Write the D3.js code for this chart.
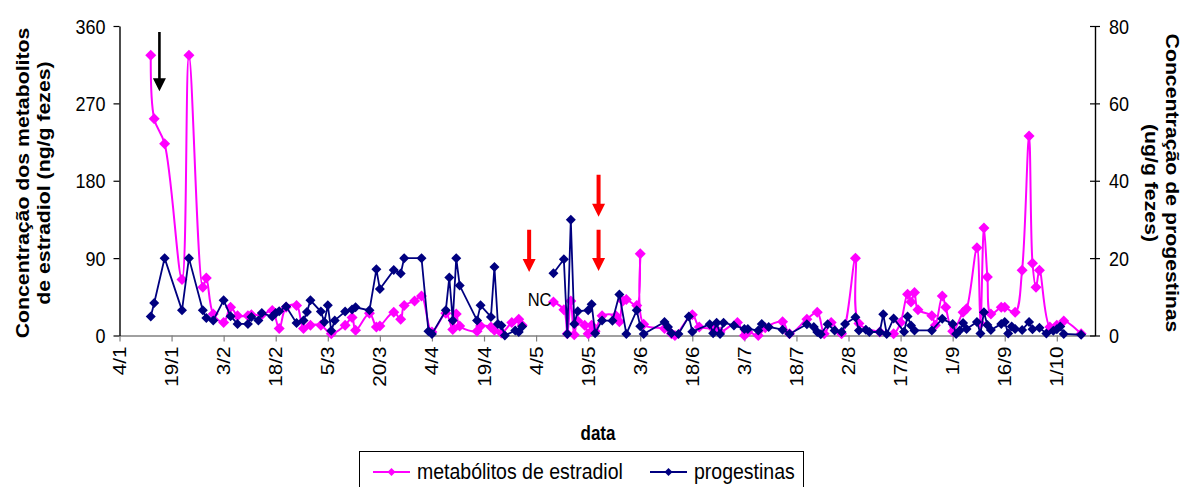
<!DOCTYPE html>
<html>
<head>
<meta charset="utf-8">
<script src="https://cdn.jsdelivr.net/npm/d3@7"></script>
<style>
  body { margin: 0; background: #fff; }
  svg { display: block; font-family: "Liberation Sans", Arial, sans-serif; }
</style>
</head>
<body>
<svg id="chart" width="1183" height="487"></svg>
<script>
// ---- data -------------------------------------------------------------
const year = 2005;

const xTickLabels = ["4/1", "19/1", "3/2", "18/2", "5/3", "20/3", "4/4", "19/4", "4/5",
  "19/5", "3/6", "18/6", "3/7", "18/7", "2/8", "17/8", "1/9", "16/9", "1/10"];
const leftTicks = [0, 90, 180, 270, 360];
const rightTicks = [0, 20, 40, 60, 80];

// metabólitos de estradiol (ng/g fezes); null = amostra não colhida (NC)
const estradiolDates = ["13/1", "14/1", "17/1", "22/1", "24/1", "28/1", "29/1", "31/1", "3/2", "5/2",
  "7/2", "10/2", "11/2", "14/2", "17/2", "19/2", "21/2", "24/2", "26/2", "28/2",
  "3/3", "6/3", "10/3", "12/3", "13/3", "17/3", "19/3", "20/3", "24/3", "26/3",
  "27/3", "30/3", "1/4", "4/4", "8/4", "10/4", "11/4", "12/4", "17/4", "18/4",
  "21/4", "22/4", "24/4", "27/4", "29/4", "30/4", "5/5", "9/5", "12/5", "13/5",
  "14/5", "15/5", "16/5", "18/5", "19/5", "20/5", "21/5", "23/5", "27/5", "28/5",
  "29/5", "30/5", "2/6", "3/6", "4/6", "10/6", "12/6", "13/6", "18/6", "20/6",
  "24/6", "26/6", "1/7", "3/7", "4/7", "7/7", "9/7", "14/7", "16/7", "21/7",
  "24/7", "26/7", "28/7", "31/7", "4/8", "5/8", "11/8", "15/8", "17/8", "19/8",
  "20/8", "21/8", "22/8", "26/8", "27/8", "29/8", "30/8", "1/9", "4/9", "5/9",
  "8/9", "9/9", "10/9", "11/9", "12/9", "15/9", "16/9", "19/9", "21/9", "23/9",
  "24/9", "25/9", "26/9", "29/9", "1/10", "3/10", "8/10"];
const estradiolValues = [326, 252, 223, 65, 326, 56, 67, 25, 15, 33,
  23, 23, 24, 24, 29, 8, 33, 35, 8, 12,
  12, 2, 12, 21, 6, 26, 10, 11, 27, 19,
  35, 40, 46, 4, 26, 7, 25, 11, 5, 11,
  10, 6, 3, 15, 19, 12, null, 39, 30, 2,
  40, 1, 17, 12, 2, 12, 5, 23, 23, 16,
  40, 42, 35, 95, 13, 8, 2, 0, 24, 10,
  8, 4, 15, 0, 4, 0, 9, 16, 2, 19,
  27, 2, 15, 2, 90, 14, 4, 2, 15, 48,
  39, 50, 30, 23, 12, 46, 33, 5, 27, 31,
  102, 14, 125, 68, 25, 33, 33, 27, 76, 232,
  84, 56, 76, 10, 12, 17, 2];

// progestinas (ug/g fezes)
const progestinDates = ["13/1", "14/1", "17/1", "22/1", "24/1", "28/1", "29/1", "31/1", "3/2", "5/2",
  "7/2", "10/2", "11/2", "13/2", "14/2", "17/2", "18/2", "19/2", "21/2", "24/2",
  "26/2", "27/2", "28/2", "3/3", "4/3", "5/3", "6/3", "7/3", "10/3", "12/3",
  "13/3", "17/3", "19/3", "20/3", "24/3", "26/3", "27/3", "1/4", "3/4", "4/4",
  "8/4", "9/4", "10/4", "11/4", "12/4", "17/4", "18/4", "21/4", "22/4", "23/4",
  "24/4", "25/4", "28/4", "29/4", "30/4", "5/5", "9/5", "12/5", "13/5", "14/5",
  "15/5", "16/5", "19/5", "20/5", "21/5", "23/5", "26/5", "28/5", "30/5", "2/6",
  "3/6", "4/6", "10/6", "11/6", "12/6", "14/6", "17/6", "18/6", "23/6", "24/6",
  "25/6", "26/6", "27/6", "30/6", "3/7", "4/7", "7/7", "8/7", "10/7", "14/7",
  "16/7", "21/7", "23/7", "24/7", "25/7", "27/7", "29/7", "31/7", "1/8", "4/8",
  "5/8", "7/8", "8/8", "11/8", "12/8", "13/8", "15/8", "18/8", "19/8", "20/8",
  "21/8", "26/8", "29/8", "1/9", "2/9", "3/9", "4/9", "5/9", "8/9", "9/9",
  "10/9", "11/9", "12/9", "15/9", "16/9", "17/9", "18/9", "19/9", "21/9", "23/9",
  "24/9", "26/9", "28/9", "30/9", "1/10", "2/10", "3/10", "8/10"];
const progestinValues = [4.9, 8.4, 20, 6.5, 20, 6.5, 4.5, 3.9, 9.1, 5,
  3, 3, 4.8, 3.9, 5.8, 4.9, 5.8, 6.3, 7.5, 3.2,
  3.9, 6.1, 9.1, 6.2, 3.5, 7.8, 1.2, 3.9, 6.2, 6.7,
  7.3, 6.5, 17.1, 12, 16.9, 16, 20, 20, 1.1, 0.4,
  6.5, 15, 3.9, 20, 12.9, 3.9, 7.8, 4.8, 17.7, 3,
  2.6, 0, 1.3, 0.9, 2.3, null, 16.1, 19.7, 0.4, 29.9,
  3, 6.3, 6.5, 8.1, 0.6, 3.9, 3.8, 10.6, 0.4, 6.5,
  2.4, 0.4, 3.5, 2.2, 0.6, 0.4, 4.9, 1, 2.9, 0.6,
  3.3, 0.4, 3.3, 2.6, 1.7, 1.7, 1.3, 3, 2.2, 1.5,
  0.4, 2.9, 2.2, 0.9, 0.3, 2.9, 1.3, 0.9, 3, 4.7,
  1.3, 1.5, 0.9, 0.9, 5.5, 0.4, 4.4, 1, 4.9, 2.6,
  1.3, 1.3, 4.3, 3, 0.4, 1.3, 3.2, 1.7, 3.5, 0.5,
  6, 2.7, 1.4, 3, 3.5, 0.5, 2.3, 1.7, 1.4, 3.5,
  1.6, 2, 0.5, 1.2, 1.6, 2.3, 0.4, 0.2];

// event arrows: date, tail and tip in estradiol units
const arrowDates = ["15.5/1", "2/5", "22/5", "22/5"];
const arrowTails = [353, 123, 187, 123];
const arrowTips = [284, 74, 138, 75];
const arrowColors = ["#000000", "#ff0000", "#ff0000", "#ff0000"];

// ---- helpers ----------------------------------------------------------
const DAY = 864e5;
function parseDM(s) {
  const [d, m] = s.split("/").map(Number);
  return new Date(Date.UTC(year, m - 1, 1) + (d - 1) * DAY);
}
const VS = 1.15; // vertical text stretch

const svg = d3.select("#chart");
const plotLeft = 119.5, plotRight = 1095, plotTop = 26, plotBottom = 335.5;

const x = d3.scaleUtc()
  .domain([parseDM("4/1"), parseDM("12/10")])
  .range([plotLeft, plotRight]);
const yL = d3.scaleLinear().domain([0, 360]).range([plotBottom, plotTop]);
const yR = d3.scaleLinear().domain([0, 80]).range([plotBottom, plotTop]);

const estradiol = estradiolDates.map((d, i) => ({ date: parseDM(d), v: estradiolValues[i] }));
const progestin = progestinDates.map((d, i) => ({ date: parseDM(d), v: progestinValues[i] }));

// ---- axes -------------------------------------------------------------
const tickFont = 18;

// bottom (date) axis
const xAxis = d3.axisBottom(x)
  .tickValues(xTickLabels.map(parseDM))
  .tickSize(6)
  .tickSizeOuter(0)
  .tickFormat(d3.utcFormat("%-d/%-m"));
const gx = svg.append("g").attr("transform", `translate(0,${plotBottom})`).call(xAxis);
gx.select(".domain").attr("stroke", "#808080").attr("stroke-width", 1.6);
gx.selectAll(".tick line").attr("stroke", "#808080").attr("stroke-width", 1.2);
gx.selectAll(".tick text")
  .attr("fill", "#000")
  .attr("font-size", tickFont)
  .attr("text-anchor", "end")
  .attr("x", 0).attr("y", 0).attr("dy", null)
  .attr("transform", `translate(6,11) rotate(-90) scale(${VS},1)`);

// left axis
const yAxisL = d3.axisLeft(yL).tickValues(leftTicks).tickSize(6).tickSizeOuter(0).tickPadding(8);
const gl = svg.append("g").attr("transform", `translate(${plotLeft},0)`).call(yAxisL);
gl.select(".domain").attr("stroke", "#000").attr("stroke-width", 1.4);
gl.selectAll(".tick line").attr("stroke", "#000").attr("stroke-width", 1.2);
gl.selectAll(".tick text").attr("fill", "#000").attr("font-size", tickFont)
  .attr("dy", "0.34em").attr("transform", `scale(1,${VS})`);

// right axis (ticks cross the line)
const yAxisR = d3.axisRight(yR).tickValues(rightTicks).tickSize(5).tickSizeOuter(0).tickPadding(9);
const gr = svg.append("g").attr("transform", `translate(${plotRight},0)`).call(yAxisR);
gr.select(".domain").attr("stroke", "#000").attr("stroke-width", 1.4);
gr.selectAll(".tick line").attr("stroke", "#000").attr("stroke-width", 1.2).attr("x1", -5);
gr.selectAll(".tick text").attr("fill", "#000").attr("font-size", tickFont)
  .attr("dy", "0.34em").attr("transform", `scale(1,${VS})`);

// ---- axis titles ------------------------------------------------------
const titleFont = 18.5;
const midY = 183;
function vText(xPos, yPos, angle, txt, size, weight) {
  svg.append("text")
    .attr("transform", `translate(${xPos},${yPos}) rotate(${angle}) scale(${VS},1)`)
    .attr("text-anchor", "middle")
    .attr("font-size", size)
    .attr("font-weight", weight)
    .text(txt);
}
vText(29, midY, -90, "Concentração dos metabolitos", titleFont, "bold");
vText(50, midY, -90, "de estradiol (ng/g fezes)", titleFont, "bold");
vText(1166, midY, 90, "Concentração de progestinas", titleFont, "bold");
vText(1145, midY, 90, "(ug/g fezes)", titleFont, "bold");

svg.append("text")
  .attr("transform", `translate(598,440) scale(1,${VS})`)
  .attr("text-anchor", "middle")
  .attr("font-size", 17)
  .attr("font-weight", "bold")
  .text("data");

// ---- series -----------------------------------------------------------
const diamond = {
  draw(ctx, size) {
    const r = Math.sqrt(size) / 2;
    ctx.moveTo(0, -r); ctx.lineTo(r, 0); ctx.lineTo(0, r); ctx.lineTo(-r, 0); ctx.closePath();
  }
};

const E2_COLOR = "#ff00ff", PG_COLOR = "#000080";

const lineE2 = d3.line()
  .defined(d => d.v != null)
  .x(d => x(d.date)).y(d => yL(d.v))
  .curve(d3.curveCatmullRom.alpha(0.5));
svg.append("path").datum(estradiol)
  .attr("d", lineE2).attr("fill", "none")
  .attr("stroke", E2_COLOR).attr("stroke-width", 2);
svg.append("g").selectAll("path")
  .data(estradiol.filter(d => d.v != null)).join("path")
  .attr("transform", d => `translate(${x(d.date)},${yL(d.v)})`)
  .attr("d", d3.symbol(diamond, 121))
  .attr("fill", E2_COLOR);

const linePG = d3.line()
  .defined(d => d.v != null)
  .x(d => x(d.date)).y(d => yR(d.v));
svg.append("path").datum(progestin)
  .attr("d", linePG).attr("fill", "none")
  .attr("stroke", PG_COLOR).attr("stroke-width", 1.8);
svg.append("g").selectAll("path")
  .data(progestin.filter(d => d.v != null)).join("path")
  .attr("transform", d => `translate(${x(d.date)},${yR(d.v)})`)
  .attr("d", d3.symbol(diamond, 100))
  .attr("fill", PG_COLOR);

// ---- annotations ------------------------------------------------------
arrowDates.forEach((d, i) => {
  const ax = x(parseDM(d));
  const y0 = yL(arrowTails[i]), y1 = yL(arrowTips[i]);
  const red = arrowColors[i] !== "#000000";
  const shaft = red ? 2 : 1.3, head = 6.5, headLen = 13;
  const p = d3.path();
  p.moveTo(ax - shaft, y0);
  p.lineTo(ax + shaft, y0);
  p.lineTo(ax + shaft, y1 - headLen);
  p.lineTo(ax + head, y1 - headLen);
  p.lineTo(ax, y1);
  p.lineTo(ax - head, y1 - headLen);
  p.lineTo(ax - shaft, y1 - headLen);
  p.closePath();
  svg.append("path").attr("d", p.toString()).attr("fill", arrowColors[i]);
});

svg.append("text")
  .attr("transform", `translate(${x(parseDM("5/5"))},306) scale(1,${VS})`)
  .attr("text-anchor", "middle")
  .attr("font-size", 16.5)
  .text("NC");

// ---- legend -----------------------------------------------------------
const legend = svg.append("g");
legend.append("rect")
  .attr("x", 359.5).attr("y", 451.5).attr("width", 444).attr("height", 50)
  .attr("fill", "#fff").attr("stroke", "#000").attr("stroke-width", 1);
const legendItems = [
  { label: "metabólitos de estradiol", color: E2_COLOR, x0: 373 },
  { label: "progestinas", color: PG_COLOR, x0: 650 }
];
legendItems.forEach(it => {
  const ly = 472;
  legend.append("line").attr("x1", it.x0).attr("x2", it.x0 + 37)
    .attr("y1", ly).attr("y2", ly).attr("stroke", it.color).attr("stroke-width", 2);
  legend.append("path").attr("transform", `translate(${it.x0 + 18.5},${ly})`)
    .attr("d", d3.symbol(diamond, 64)).attr("fill", it.color);
  legend.append("text")
    .attr("transform", `translate(${it.x0 + 44},479) scale(1,${VS})`)
    .attr("font-size", 19.5)
    .text(it.label);
});
</script>
</body>
</html>
